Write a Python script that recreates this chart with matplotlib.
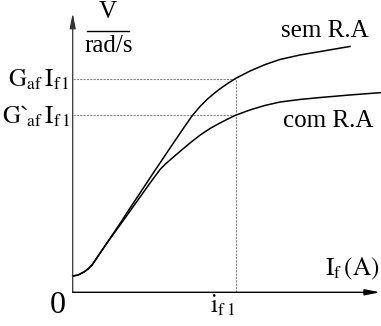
import numpy as np
import matplotlib
matplotlib.use("Agg")
import matplotlib.pyplot as plt

plt.rcParams['font.family'] = ['Liberation Serif', 'DejaVu Serif']
plt.rcParams['mathtext.fontset'] = 'stix'

# field current, normalised so that i_f1 = 1
if_common = [0.0, 0.033, 0.069, 0.094, 0.119, 0.198]
emf_common = [0.076, 0.081, 0.095, 0.109, 0.128, 0.217]

# no armature reaction
if_sem = if_common + [0.291, 0.340, 0.493, 0.598, 0.671, 0.733, 0.782, 0.825, 0.868, 0.905, 0.954,
                      1.0, 1.089, 1.181, 1.273, 1.396, 1.519, 1.703]
emf_sem = emf_common + [0.322, 0.380, 0.556, 0.675, 0.757, 0.825, 0.869, 0.902, 0.930, 0.952, 0.978,
                        1.0, 1.035, 1.065, 1.089, 1.110, 1.126, 1.150]

# with armature reaction
if_com = if_common + [0.291, 0.383, 0.475, 0.536, 0.567, 0.610, 0.659, 0.720, 0.782, 0.843, 0.905,
                      0.954, 1.0, 1.089, 1.181, 1.273, 1.396, 1.519, 1.703, 1.894]
emf_com = emf_common + [0.315, 0.413, 0.511, 0.574, 0.598, 0.627, 0.659, 0.698, 0.735, 0.766, 0.792,
                        0.811, 0.828, 0.853, 0.874, 0.890, 0.902, 0.911, 0.923, 0.934]

i_f1 = 1.0
g_af = 1.0
g_af_ra = 0.828

fig = plt.figure(figsize=(3.81, 3.26), dpi=100)
ax = fig.add_axes([0, 0, 1, 1])
ax.set_xlim(-0.4466, 1.8937)
ax.set_ylim(-0.1576, 1.3672)
ax.axis('off')

# axes with arrow heads
ax.annotate('', xy=(0, 1.306), xytext=(0, 0),
            arrowprops=dict(arrowstyle='-|>,head_length=0.9,head_width=0.18',
                            color='#333333', lw=0.9, shrinkA=0, shrinkB=0))
ax.annotate('', xy=(1.888, 0), xytext=(0, 0),
            arrowprops=dict(arrowstyle='-|>,head_length=0.9,head_width=0.18',
                            color='black', lw=1.0, shrinkA=0, shrinkB=0))

# guide lines at i_f1
dash = dict(color='#888888', lw=0.8, ls=(0, (2, 1)))
ax.plot([0, i_f1], [g_af, g_af], **dash)
ax.plot([0, i_f1], [g_af_ra, g_af_ra], **dash)
ax.plot([i_f1, i_f1], [0, g_af], **dash)

ax.plot(if_sem, emf_sem, color='black', lw=1.1)
ax.plot(if_com, emf_com, color='black', lw=1.1)

fs = 18
ax.text(1.282, 1.195, 'sem R.A', fontsize=fs, va='baseline', ha='left')
ax.text(1.292, 0.775, 'com R.A', fontsize=fs, va='baseline', ha='left')
ax.text(-0.090, -0.060, '0', fontsize=23, ha='center', va='center')

# unit V/(rad/s) as a stacked fraction
ax.text(0.217, 1.285, 'V', fontsize=fs, ha='center', va='baseline')
ax.plot([0.088, 0.346], [1.222, 1.222], color='black', lw=1.0)
ax.text(0.220, 1.122, 'rad/s', fontsize=fs, ha='center', va='baseline')

ax.text(-0.017, 0.965, r'$\mathrm{G_{af}\,I_{f\,1}}$', fontsize=fs, ha='right', va='baseline')
ax.text(-0.017, 0.792, r'${\mathrm{G}\text{`}}_{\!\mathrm{af}}\,\mathrm{I_{f\,1}}$', fontsize=fs,
        ha='right', va='baseline')
ax.text(1.550, 0.081, r'$\mathrm{I_{f}\,(A)}$', fontsize=fs, ha='left', va='baseline')
ax.text(0.843, -0.095, r'$\mathrm{i_{f\;1}}$', fontsize=fs, ha='left', va='baseline')

fig.savefig('out.png', dpi=100)
